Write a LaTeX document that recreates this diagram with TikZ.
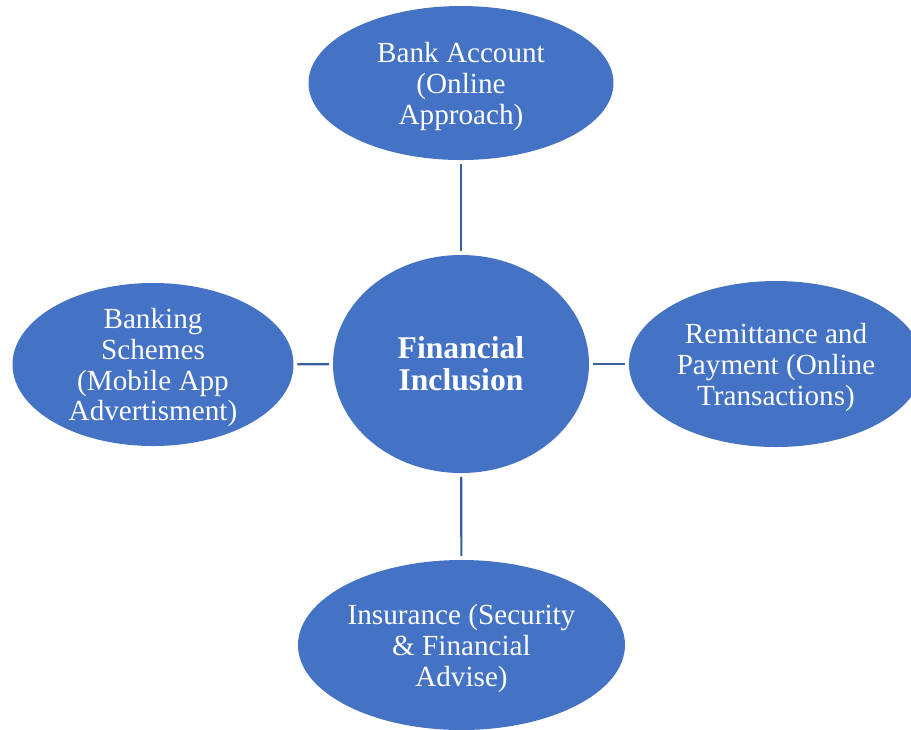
\documentclass[tikz,border=0pt]{standalone}
\usepackage{fontspec}
\setmainfont{Liberation Serif}
\usepackage{tikz}
\usetikzlibrary{shapes.geometric}
\definecolor{blobBlue}{HTML}{4472C4}
\definecolor{linkBlue}{HTML}{3A5F9E}
% pushes the first text line a little lower inside the ellipse
\newcommand\dropline{\rule{0pt}{7.5pt}}
\tikzset{
    blob/.style={ellipse,fill=blobBlue,draw=none,inner sep=0pt,text=white,align=center,font=\fontsize{8.3}{8.8}\selectfont},
    hub/.style={blob,font=\fontsize{9}{9.1}\selectfont\bfseries},
    link/.style={draw=linkBlue,line width=0.6pt,shorten >=0.9pt,shorten <=0.9pt},
}

\begin{document}
\begin{tikzpicture}
                \useasboundingbox (0,0) rectangle (9.11,-7.29);

                \node[hub,minimum width=2.56cm,minimum height=2.18cm] (fi) at (4.61,-3.64) {Financial\\Inclusion};

                \node[blob,minimum width=3.05cm,minimum height=1.54cm] (acct) at (4.61,-0.83) {\dropline Bank Account\\(Online\\Approach)};
                \node[blob,inner ysep=-3pt,minimum width=2.81cm,minimum height=1.63cm] (schemes) at (1.53,-3.645) {\dropline Banking\\Schemes\\(Mobile App\\Advertisment)};
                \node[blob,minimum width=2.94cm,minimum height=1.66cm] (remit) at (7.76,-3.64) {\dropline Remittance and\\Payment (Online\\Transactions)};
                \node[blob,minimum width=3.27cm,minimum height=1.70cm] (insur) at (4.615,-6.45) {\dropline Insurance (Security\\\& Financial\\Advise)};

                % spokes
                \draw[link] (acct) -- (fi);
                \draw[link] (schemes) -- (fi);
                \draw[link] (remit) -- (fi);
                \draw[link] (insur) -- (fi);
\end{tikzpicture}
\end{document}
